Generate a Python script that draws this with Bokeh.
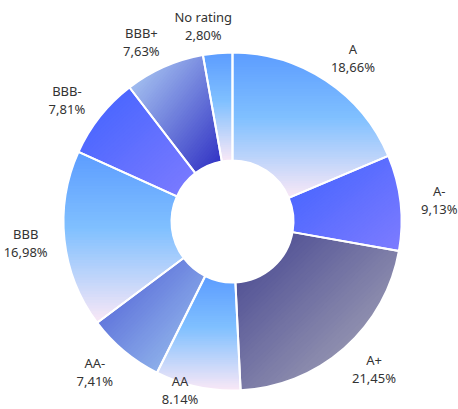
import numpy as np
from bokeh.plotting import figure
from bokeh.models import Range1d
from bokeh.core.properties import value
from bokeh.embed import file_html
from bokeh.resources import INLINE

# ---- data ----
categories = ["A", "A-", "A+", "AA", "AA-", "BBB", "BBB-", "BBB+", "No rating"]
shares = [18.66, 9.13, 21.45, 8.14, 7.41, 16.98, 7.81, 7.63, 2.80]
share_labels = ["18,66%", "9,13%", "21,45%", "8.14%", "7,41%", "16,98%", "7,81%", "7,63%", "2,80%"]

# gradient styles: (mode, [(stop, color), ...]); "v" = top->bottom, "d" = top-left->bottom-right
grad_v = ("v", [(0.0, "#5c9cff"), (0.45, "#80c0ff"), (1.0, "#fae8f6")])
grad_blue_violet = ("d", [(0.0, "#4062ff"), (1.0, "#7e7cff")])
grad_slate = ("d", [(0.0, "#42428f"), (1.0, "#b0b0bc")])
grad_dark_light = ("d", [(0.0, "#4a58d4"), (1.0, "#a0c8f0")])
grad_light_dark = ("d", [(0.0, "#b4d4f6"), (1.0, "#2c2cc2")])
slice_grads = [grad_v, grad_blue_violet, grad_slate, grad_v, grad_dark_light,
               grad_v, grad_blue_violet, grad_light_dark, grad_v]

R_OUT, R_IN = 169, 61
R_LABEL, H_SHIFT = 196, 12
W, H = 458, 409
CX, CY = 232, 221  # chart centre in figure pixels from top-left


def hex2rgb(h):
    h = h.lstrip("#")
    return np.array([int(h[i:i + 2], 16) for i in (0, 2, 4)], dtype=float)


def interp_color(stops, t):
    t = min(max(t, 0.0), 1.0)
    for (s0, c0), (s1, c1) in zip(stops[:-1], stops[1:]):
        if t <= s1:
            f = (t - s0) / (s1 - s0) if s1 > s0 else 0
            c = hex2rgb(c0) * (1 - f) + hex2rgb(c1) * f
            return "#%02x%02x%02x" % tuple(int(round(v)) for v in c)
    return stops[-1][1]


def clip_half(pts, ts, bound, keep_above):
    out_p, out_t = [], []
    n = len(pts)
    for i in range(n):
        p, q = pts[i], pts[(i + 1) % n]
        tp, tq = ts[i], ts[(i + 1) % n]
        ip = tp >= bound if keep_above else tp <= bound
        iq = tq >= bound if keep_above else tq <= bound
        if ip:
            out_p.append(p)
            out_t.append(tp)
        if ip != iq:
            s = (bound - tp) / (tq - tp)
            out_p.append(p + s * (q - p))
            out_t.append(bound)
    return out_p, out_t


p = figure(width=W, height=H, output_backend="svg", toolbar_location=None,
           x_range=Range1d(-CX, W - CX), y_range=Range1d(-(H - CY), CY),
           min_border=0, background_fill_color="white", border_fill_color="white")
p.axis.visible = False
p.grid.visible = False
p.outline_line_color = None

total = sum(shares)
fr = np.array(shares) / total
cum = np.concatenate([[0], np.cumsum(fr)])
theta0 = cum[:-1] * 2 * np.pi
theta1 = cum[1:] * 2 * np.pi

xs_all, ys_all, cols = [], [], []
STRIPE = 1.0 / 60
for i in range(len(shares)):
    th = np.linspace(theta0[i], theta1[i], 120)
    outer = np.column_stack([R_OUT * np.sin(th), R_OUT * np.cos(th)])
    inner = np.column_stack([R_IN * np.sin(th[::-1]), R_IN * np.cos(th[::-1])])
    ring = np.vstack([outer, inner])          # gradient box = annular slice box
    xmin, xmax = ring[:, 0].min(), ring[:, 0].max()
    ymin, ymax = ring[:, 1].min(), ring[:, 1].max()
    wedge = np.vstack([outer, [[0.0, 0.0]]])  # convex wedge, hole painted later
    u = (wedge[:, 0] - xmin) / (xmax - xmin)
    v = (ymax - wedge[:, 1]) / (ymax - ymin)
    mode, stops = slice_grads[i]
    t = v if mode == "v" else (u + v) / 2
    pts = [wedge[k] for k in range(len(wedge))]
    tl = list(t)
    k0 = int(np.floor(t.min() / STRIPE))
    k1 = int(np.ceil(t.max() / STRIPE))
    for k in range(k0, k1):
        lo = k * STRIPE
        hi = (k + 1.6) * STRIPE
        pp, tt = clip_half(pts, tl, lo, True)
        if len(pp) < 3:
            continue
        pp, tt = clip_half(pp, tt, hi, False)
        if len(pp) < 3:
            continue
        arr = np.array(pp)
        xs_all.append(list(arr[:, 0]))
        ys_all.append(list(arr[:, 1]))
        cols.append(interp_color(stops, (k + 0.5) * STRIPE))

p.patches(xs_all, ys_all, fill_color=cols, line_color=None)

# hole
p.circle(x=[0], y=[0], radius=R_IN, fill_color="white", line_color="white", line_width=1)

# white separators / borders
p.annular_wedge(x=0, y=0, inner_radius=R_IN, outer_radius=R_OUT,
                start_angle=list(np.pi / 2 - theta0), end_angle=list(np.pi / 2 - theta1),
                direction="clock", fill_color=None, line_color="white", line_width=2)

# labels
mid = (theta0 + theta1) / 2
lx = R_LABEL * np.sin(mid) + H_SHIFT * np.sign(np.sin(mid))
ly = R_LABEL * np.cos(mid)
ly = np.maximum(ly, -(H - CY) + 20)  # keep the block inside the bottom edge
p.text(x=list(lx), y=list(ly + 9), text=categories, text_align="center",
       text_baseline="middle", text_font=value("Noto Sans"), text_font_size="13px",
       text_color="#333333")
p.text(x=list(lx), y=list(ly - 9), text=share_labels, text_align="center",
       text_baseline="middle", text_font=value("Noto Sans"), text_font_size="13px",
       text_color="#333333")

open("out.html", "w").write(file_html(p, INLINE))
